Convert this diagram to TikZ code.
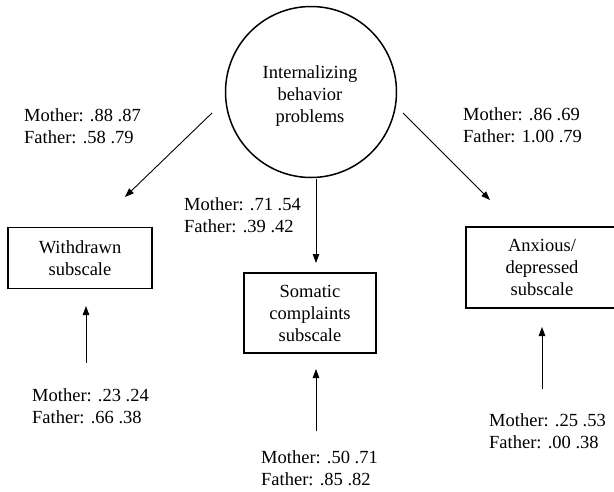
\documentclass[tikz,border=0pt]{standalone}
\usepackage{fontspec}
\setmainfont{Liberation Serif}
\usetikzlibrary{arrows.meta}
\begin{document}
\begin{tikzpicture}[x=1pt,y=-1pt,
  every node/.style={font=\fontsize{18.5}{22}\selectfont, align=center, inner sep=0pt},
  latent/.style={draw, circle, line width=1.5pt, minimum size=171pt},
  obs/.style={draw, rectangle, line width=1.5pt},
  lbl/.style={anchor=west, align=left},
  conn/.style={line width=0.9pt, -{Triangle[length=9pt,width=6.5pt]}}]
\useasboundingbox (0,0) rectangle (614,491);
% latent variable
\node[latent] (ibp) at (311,92) {};
\node (ibpt) at (310,96) {Internalizing\\behavior\\problems};
% observed subscales
\node[obs, minimum width=144pt, minimum height=61pt] (wd) at (80,258) {Withdrawn\\subscale};
\node[obs, minimum width=132pt, minimum height=80pt] (sc) at (310,313) {Somatic\\complaints\\subscale};
\node[obs, minimum width=152pt, minimum height=81pt] (ad) at (542,267.5) {Anxious/\\depressed\\subscale};
% loading labels
\node[lbl] (l1) at (24,126) {Mother: .88 .87\\Father: .58 .79};
\node[lbl] (l2) at (184,215) {Mother: .71 .54\\Father: .39 .42};
\node[lbl] (l3) at (463,125) {Mother: .86 .69\\Father: 1.00 .79};
% error labels
\node[lbl] (e1) at (32,406) {Mother: .23 .24\\Father: .66 .38};
\node[lbl] (e2) at (261,468) {Mother: .50 .71\\Father: .85 .82};
\node[lbl] (e3) at (489,431) {Mother: .25 .53\\Father: .00 .38};
% connector ends
\coordinate (a1s) at (212,113);
\coordinate (a1e) at (125,197);
\coordinate (a2s) at (316,179);
\coordinate (a2e) at (316,263);
\coordinate (a3s) at (403,113);
\coordinate (a3e) at (490,200);
\coordinate (b1s) at (86,363);
\coordinate (b1e) at (86,306);
\coordinate (b2s) at (316,431);
\coordinate (b2e) at (316,369);
\coordinate (b3s) at (542,389);
\coordinate (b3e) at (542,327);
% connectors
\draw[conn] (a1s) -- (a1e);
\draw[conn] (a2s) -- (a2e);
\draw[conn] (a3s) -- (a3e);
\draw[conn] (b1s) -- (b1e);
\draw[conn] (b2s) -- (b2e);
\draw[conn] (b3s) -- (b3e);
\end{tikzpicture}
\end{document}
